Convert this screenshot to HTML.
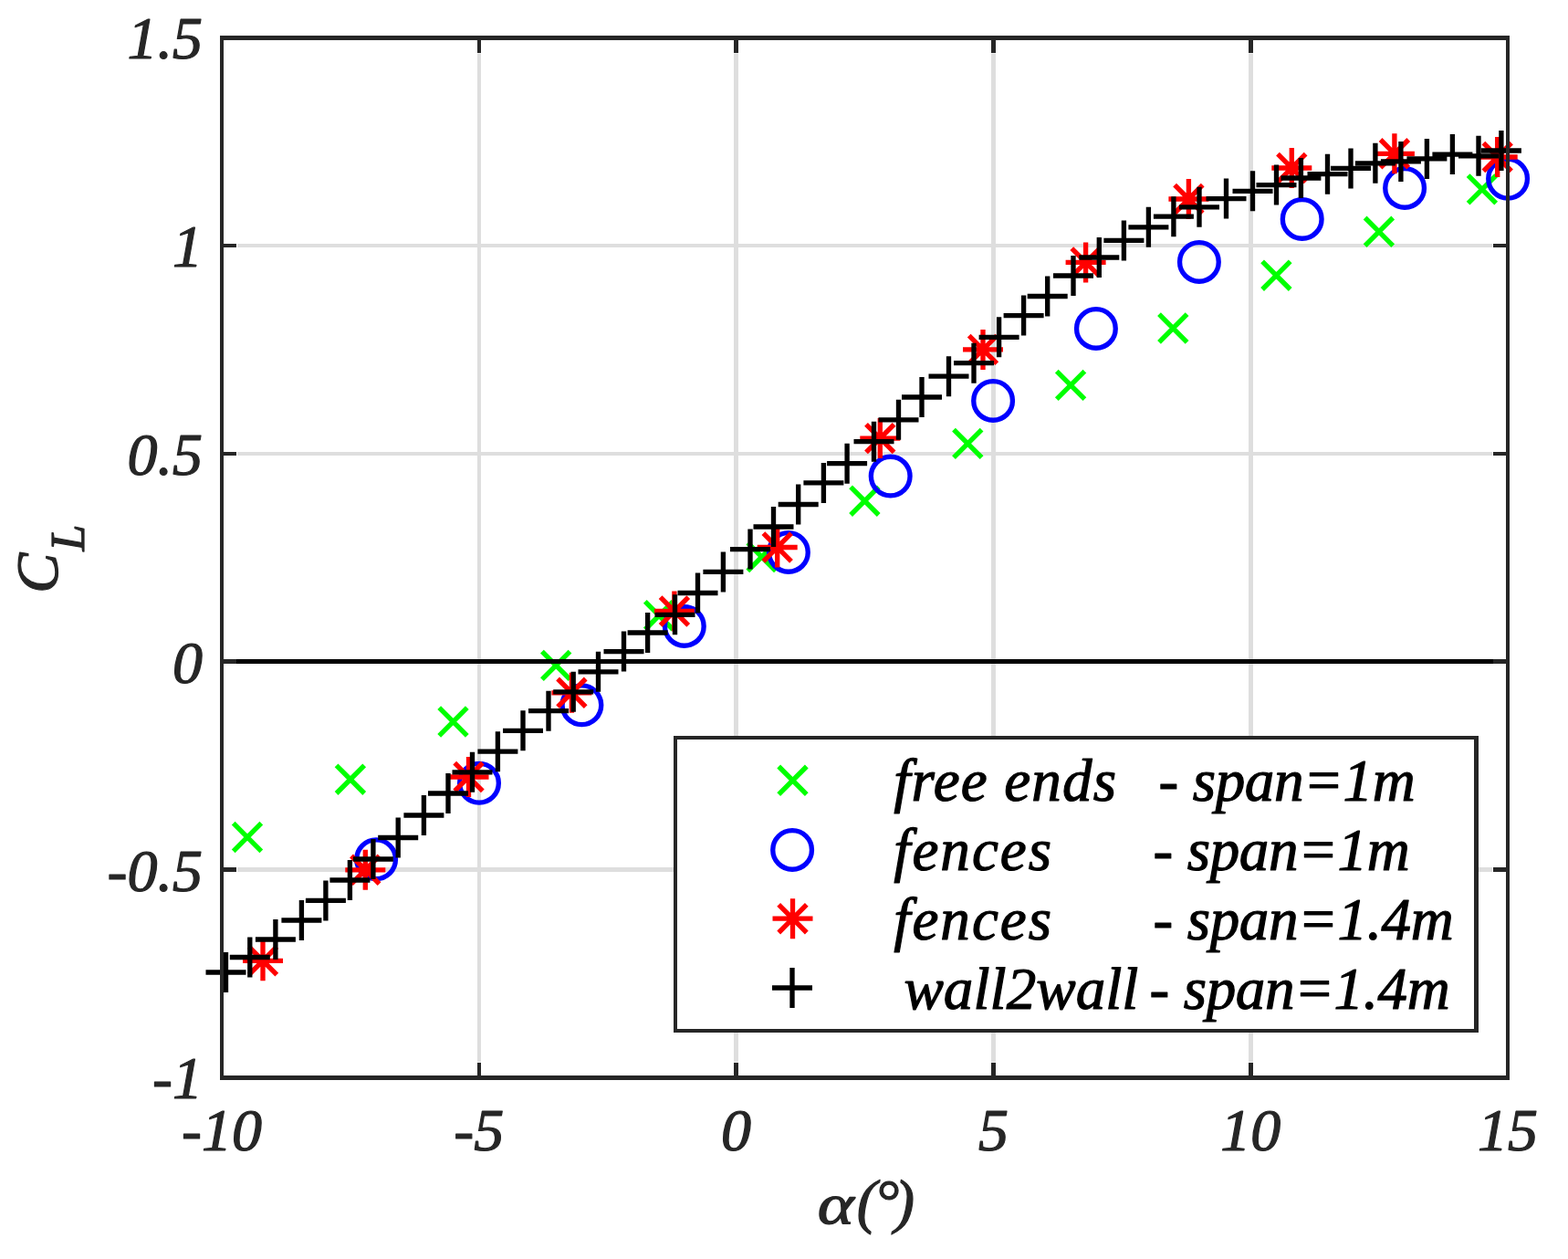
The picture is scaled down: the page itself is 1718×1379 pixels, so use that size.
<!DOCTYPE html><html><head><meta charset="utf-8"><title>CL vs alpha</title><style>html,body{margin:0;padding:0;background:#fff;}svg{display:block;}text{font-family:"Liberation Serif","Times New Roman",serif;font-style:italic;stroke-width:1.2;stroke-linejoin:round;}</style></head><body>
<svg width="1718" height="1379" viewBox="0 0 1718 1379">
<rect width="1718" height="1379" fill="#fff"/>
<path d="M525 58.5V1163.5" stroke="#dedede" stroke-width="4" fill="none"/>
<path d="M806.5 58.5V1163.5" stroke="#dedede" stroke-width="5" fill="none"/>
<path d="M1088.5 58.5V1163.5" stroke="#dedede" stroke-width="5" fill="none"/>
<path d="M1370.5 58.5V1163.5" stroke="#dedede" stroke-width="5" fill="none"/>
<path d="M260 269H1635" stroke="#dedede" stroke-width="4" fill="none"/>
<path d="M260 497H1635" stroke="#dedede" stroke-width="4" fill="none"/>
<path d="M260 724.5H1635" stroke="#dedede" stroke-width="5" fill="none"/>
<path d="M260 952.5H1635" stroke="#dedede" stroke-width="5" fill="none"/>
<g fill="none" stroke-width="5.33" stroke-linecap="butt">
<path stroke="#00ff00" d="M255.7 901.7L286.3 932.3M255.7 932.3L286.3 901.7M368.6 838.4L399.2 869M368.6 869L399.2 838.4M481.2 775.2L511.8 805.8M481.2 805.8L511.8 775.2M593.9 713.6L624.5 744.2M593.9 744.2L624.5 713.6M706.8 658.9L737.4 689.5M706.8 689.5L737.4 658.9M819.3 594.7L849.9 625.3M819.3 625.3L849.9 594.7M932.1 533.4L962.7 564M932.1 564L962.7 533.4M1045 470.6L1075.6 501.2M1045 501.2L1075.6 470.6M1157.8 406.6L1188.4 437.2M1157.8 437.2L1188.4 406.6M1270 344.2L1300.6 374.8M1270 374.8L1300.6 344.2M1383.1 286.4L1413.7 317M1383.1 317L1413.7 286.4M1495.6 238.5L1526.2 269.1M1495.6 269.1L1526.2 238.5M1608.6 192.1L1639.2 222.7M1608.6 222.7L1639.2 192.1"/>
<circle cx="412.1" cy="941.3" r="21.35" stroke="#0000ff"/><circle cx="525" cy="857.8" r="21.35" stroke="#0000ff"/><circle cx="637.4" cy="772.3" r="21.35" stroke="#0000ff"/><circle cx="749.8" cy="685.9" r="21.35" stroke="#0000ff"/><circle cx="863.9" cy="604.9" r="21.35" stroke="#0000ff"/><circle cx="975.7" cy="521.6" r="21.35" stroke="#0000ff"/><circle cx="1088.1" cy="438.9" r="21.35" stroke="#0000ff"/><circle cx="1200.9" cy="359.9" r="21.35" stroke="#0000ff"/><circle cx="1313.9" cy="286.9" r="21.35" stroke="#0000ff"/><circle cx="1426.7" cy="239.9" r="21.35" stroke="#0000ff"/><circle cx="1539.1" cy="205.9" r="21.35" stroke="#0000ff"/><circle cx="1652.1" cy="195.8" r="21.35" stroke="#0000ff"/>
<path stroke="#ff0000" d="M266 1052.3H310M288 1030.3V1074.3M272.7 1037L303.3 1067.6M272.7 1067.6L303.3 1037M378.3 952.8H422.3M400.3 930.8V974.8M385 937.5L415.6 968.1M385 968.1L415.6 937.5M491.5 851H535.5M513.5 829V873M498.2 835.7L528.8 866.3M498.2 866.3L528.8 835.7M604.4 758.8H648.4M626.4 736.8V780.8M611.1 743.5L641.7 774.1M611.1 774.1L641.7 743.5M716.9 669.5H760.9M738.9 647.5V691.5M723.6 654.2L754.2 684.8M723.6 684.8L754.2 654.2M829.7 599.5H873.7M851.7 577.5V621.5M836.4 584.2L867 614.8M836.4 614.8L867 584.2M942.3 480.1H986.3M964.3 458.1V502.1M949 464.8L979.6 495.4M949 495.4L979.6 464.8M1055 382.9H1099M1077 360.9V404.9M1061.7 367.6L1092.3 398.2M1061.7 398.2L1092.3 367.6M1167.6 287.4H1211.6M1189.6 265.4V309.4M1174.3 272.1L1204.9 302.7M1174.3 302.7L1204.9 272.1M1280.4 218H1324.4M1302.4 196V240M1287.1 202.7L1317.7 233.3M1287.1 233.3L1317.7 202.7M1393.3 184H1437.3M1415.3 162V206M1400 168.7L1430.6 199.3M1400 199.3L1430.6 168.7M1505.9 168.3H1549.9M1527.9 146.3V190.3M1512.6 153L1543.2 183.6M1512.6 183.6L1543.2 153M1618.7 172H1662.7M1640.7 150V194M1625.4 156.7L1656 187.3M1625.4 187.3L1656 156.7"/>
<path stroke="#000" d="M225.5 1065H269.5M247.5 1043V1087M251.8 1048.5H295.8M273.8 1026.5V1070.5M279.9 1029H323.9M301.9 1007V1051M308.4 1008H352.4M330.4 986V1030M334.9 986.4H378.9M356.9 964.4V1008.4M361.4 964H405.4M383.4 942V986M386.9 941H430.9M408.9 919V963M414.2 917.5H458.2M436.2 895.5V939.5M442.4 893H486.4M464.4 871V915M469 869H513M491 847V891M495.5 845.8H539.5M517.5 823.8V867.8M523.4 823.2H567.4M545.4 801.2V845.2M551 800.3H595M573 778.3V822.3M579 778.7H623M601 756.7V800.7M606.2 757.8H650.2M628.2 735.8V779.8M633.5 735.8H677.5M655.5 713.8V757.8M661.5 713.6H705.5M683.5 691.6V735.6M687.6 693H731.6M709.6 671V715M717.5 673.3H761.5M739.5 651.3V695.3M742.5 649.5H786.5M764.5 627.5V671.5M770.4 626.4H814.4M792.4 604.4V648.4M800 601.6H844M822 579.6V623.6M825.5 577H869.5M847.5 555V599M852.7 552.5H896.7M874.7 530.5V574.5M880.4 528.9H924.4M902.4 506.9V550.9M906.1 507.7H950.1M928.1 485.7V529.7M935.5 483.7H979.5M957.5 461.7V505.7M962.5 459.8H1006.5M984.5 437.8V481.8M988 435H1032M1010 413V457M1017.5 412.2H1061.5M1039.5 390.2V434.2M1045 397.7H1089M1067 375.7V419.7M1072.6 369.3H1116.6M1094.6 347.3V391.3M1099.6 345.6H1143.6M1121.6 323.6V367.6M1125.7 324.5H1169.7M1147.7 302.5V346.5M1154 302H1198M1176 280V324M1182.3 282H1226.3M1204.3 260V304M1209.4 263.4H1253.4M1231.4 241.4V285.4M1236.4 248.8H1280.4M1258.4 226.8V270.8M1263.9 237.2H1307.9M1285.9 215.2V259.2M1292 226.8H1336M1314 204.8V248.8M1321.5 217.6H1365.5M1343.5 195.6V239.6M1350.5 209.3H1394.5M1372.5 187.3V231.3M1376.5 202.6H1420.5M1398.5 180.6V224.6M1403.4 195H1447.4M1425.4 173V217M1432.5 190.7H1476.5M1454.5 168.7V212.7M1458 184.4H1502M1480 162.4V206.4M1484.9 178.8H1528.9M1506.9 156.8V200.8M1512.9 176.9H1556.9M1534.9 154.9V198.9M1541.4 173.9H1585.4M1563.4 151.9V195.9M1569.4 169.1H1613.4M1591.4 147.1V191.1M1598 170.8H1642M1620 148.8V192.8M1622.9 165H1666.9M1644.9 143V187"/>
</g>
<path d="M243 724.5H1652" stroke="#000" stroke-width="5" fill="none"/>
<path d="M525 1180.5V1164 M525 41.5V58" stroke="#262626" stroke-width="4" fill="none"/>
<path d="M806.5 1180.5V1164 M806.5 41.5V58" stroke="#262626" stroke-width="5" fill="none"/>
<path d="M1088.5 1180.5V1164 M1088.5 41.5V58" stroke="#262626" stroke-width="5" fill="none"/>
<path d="M1370.5 1180.5V1164 M1370.5 41.5V58" stroke="#262626" stroke-width="5" fill="none"/>
<path d="M243 269H259 M1652 269H1636" stroke="#262626" stroke-width="4" fill="none"/>
<path d="M243 497H259 M1652 497H1636" stroke="#262626" stroke-width="4" fill="none"/>
<path d="M243 724.5H259 M1652 724.5H1636" stroke="#262626" stroke-width="5" fill="none"/>
<path d="M243 952.5H259 M1652 952.5H1636" stroke="#262626" stroke-width="5" fill="none"/>
<path d="M243 39V1183 M1652 39V1183" stroke="#262626" stroke-width="4" fill="none"/>
<path d="M241 41.5H1654 M241 1180.5H1654" stroke="#262626" stroke-width="5" fill="none"/>
<text x="222" y="64.3" font-size="66" fill="#262626" stroke="#262626" stroke-width="0.4" text-anchor="end">1.5</text>
<text x="222" y="292.1" font-size="66" fill="#262626" stroke="#262626" stroke-width="0.4" text-anchor="end">1</text>
<text x="222" y="519.9" font-size="66" fill="#262626" stroke="#262626" stroke-width="0.4" text-anchor="end">0.5</text>
<text x="222" y="747.7" font-size="66" fill="#262626" stroke="#262626" stroke-width="0.4" text-anchor="end">0</text>
<text x="222" y="975.5" font-size="66" fill="#262626" stroke="#262626" stroke-width="0.4" text-anchor="end">-0.5</text>
<text x="222" y="1203.3" font-size="66" fill="#262626" stroke="#262626" stroke-width="0.4" text-anchor="end">-1</text>
<text x="243" y="1259.5" font-size="66" fill="#262626" stroke="#262626" stroke-width="0.4" text-anchor="middle">-10</text>
<text x="524.8" y="1259.5" font-size="66" fill="#262626" stroke="#262626" stroke-width="0.4" text-anchor="middle">-5</text>
<text x="806.6" y="1259.5" font-size="66" fill="#262626" stroke="#262626" stroke-width="0.4" text-anchor="middle">0</text>
<text x="1088.4" y="1259.5" font-size="66" fill="#262626" stroke="#262626" stroke-width="0.4" text-anchor="middle">5</text>
<text x="1370.2" y="1259.5" font-size="66" fill="#262626" stroke="#262626" stroke-width="0.4" text-anchor="middle">10</text>
<text x="1652" y="1259.5" font-size="66" fill="#262626" stroke="#262626" stroke-width="0.4" text-anchor="middle">15</text>
<text transform="translate(895.7 1339.5) scale(1.21 1)" font-size="63" fill="#262626" stroke="#262626" stroke-width="0.4">α</text>
<text y="1338" font-size="66" fill="#262626" stroke="#262626" stroke-width="0.4"><tspan x="938.7">(</tspan><tspan x="958.7">°</tspan><tspan x="980.1">)</tspan></text>
<text transform="translate(63 649.7) rotate(-90)" font-size="66" fill="#262626" stroke="#262626" stroke-width="0.4">C</text>
<text transform="translate(92 603.5) rotate(-90)" font-size="52" fill="#262626" stroke="#262626" stroke-width="0.4">L</text>
<rect x="740" y="808" width="877.5" height="321" fill="#fff"/>
<path d="M740 806V1131M1617.5 806V1131" stroke="#262626" stroke-width="4" fill="none"/>
<path d="M1617.5 806V1131" stroke="#262626" stroke-width="5" fill="none"/>
<path d="M738 808H1620M738 1129H1620" stroke="#262626" stroke-width="4" fill="none"/>
<g fill="none" stroke-width="5.33">
<path stroke="#00ff00" d="M853.2 839.5L883.8 870.1M853.2 870.1L883.8 839.5"/>
<circle cx="868.1" cy="930.9" r="21.35" stroke="#0000ff"/>
<path stroke="#ff0000" d="M846.5 1006.2H890.5M868.5 984.2V1028.2M853.2 990.9L883.8 1021.5M853.2 1021.5L883.8 990.9"/>
<path stroke="#000" d="M846 1082H890M868 1060V1104"/>
</g>
<text y="877.4" font-size="65" fill="#000" stroke="#000"><tspan x="979.3" textLength="243.7" lengthAdjust="spacing">free ends</tspan><tspan x="1269.6" textLength="281.1" lengthAdjust="spacing">- span=1m</tspan></text>
<text y="953.1" font-size="65" fill="#000" stroke="#000"><tspan x="979.3" textLength="172.7" lengthAdjust="spacing">fences</tspan><tspan x="1263.6" textLength="281.1" lengthAdjust="spacing">- span=1m</tspan></text>
<text y="1028.8" font-size="65" fill="#000" stroke="#000"><tspan x="979.3" textLength="172.7" lengthAdjust="spacing">fences</tspan><tspan x="1263.6" textLength="329.1" lengthAdjust="spacing">- span=1.4m</tspan></text>
<text y="1104.5" font-size="65" fill="#000" stroke="#000"><tspan x="990.4" textLength="257" lengthAdjust="spacing">wall2wall</tspan><tspan x="1259.6" textLength="329.1" lengthAdjust="spacing">- span=1.4m</tspan></text>
</svg></body></html>
